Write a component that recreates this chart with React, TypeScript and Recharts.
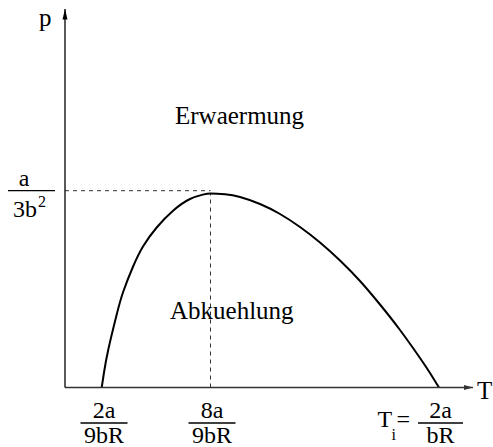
import React from 'react';
import { LineChart, Line, XAxis, YAxis, ReferenceLine, ReferenceDot } from 'recharts';

// Inversion curve (T in plot units, p in plot units)
const T_VALUES = [36.7, 39, 43.3, 51.7, 58.3, 68.3, 78.3, 91.7, 108.3, 125, 138.3, 145.5, 160, 175, 195, 215, 235, 255, 275, 295, 315, 335, 355, 365, 374];
const P_VALUES = [0, 15, 38, 73, 96, 121.5, 141.5, 160, 177, 188.5, 193, 194, 193.2, 190.5, 183.5, 173.5, 160.5, 145, 127, 106.5, 83, 57.5, 29.5, 14.5, 0];

const X_TICKS = [39, 147, 375.5];
const X_TICK_NUM = ['2a', '8a', '2a'];
const X_TICK_DEN = ['9bR', '9bR', 'bR'];
const Y_TICKS = [196.8];
const T_MAX = 145.5;
const P_MAX_LINE = 196.8;
const X_END = 408;
const Y_END = 378.5;

const data = T_VALUES.map((t, i) => ({ T: t, p: P_VALUES[i] }));

const Txt = ({ x, y, size, anchor, children }: any) => (
  <text
    transform={`translate(${x} ${y}) scale(${size / 20})`}
    x={0}
    y={0}
    fill="#000"
    textAnchor={anchor || 'start'}
    style={{ fontFamily: 'serif', fontSize: 20 }}
  >
    {children}
  </text>
);

const XTick = (props: any) => {
  const { x, index } = props;
  const c = x;
  const barY = 423;
  const w = index === 2 ? 45 : 47;
  return (
    <g>
      <Txt x={c} y={418} size={24} anchor="middle">{X_TICK_NUM[index]}</Txt>
      <line x1={c - w / 2} x2={c + w / 2} y1={barY} y2={barY} stroke="#000" strokeWidth={1.3} />
      <Txt x={c} y={443} size={24} anchor="middle">{X_TICK_DEN[index]}</Txt>
      {index === 2 && (
        <g>
          <Txt x={c - 63} y={427} size={24}>T</Txt>
          <Txt x={c - 49} y={440} size={16}>i</Txt>
          <Txt x={c - 44} y={427} size={24}>=</Txt>
        </g>
      )}
    </g>
  );
};

const YTick = (props: any) => {
  const { y } = props;
  return (
    <g>
      <Txt x={24} y={y - 5} size={24} anchor="middle">a</Txt>
      <line x1={8} x2={55} y1={y} y2={y} stroke="#000" strokeWidth={1.3} />
      <Txt x={13} y={y + 26} size={24}>3b</Txt>
      <Txt x={38} y={y + 16} size={16}>2</Txt>
    </g>
  );
};

export default function App() {
  return (
    <div style={{ position: 'absolute', left: 0, top: 0, width: 493, height: 447, background: '#fff' }}>
      <LineChart width={493} height={447} data={data} margin={{ top: 9, right: 20, bottom: 29.5, left: 5 }}>
        <XAxis
          type="number"
          dataKey="T"
          domain={[0, X_END]}
          ticks={X_TICKS}
          allowDataOverflow
          height={30}
          tickLine={false}
          axisLine={{ stroke: '#333', strokeWidth: 1.3 }}
          tick={<XTick />}
          interval={0}
        />
        <YAxis
          type="number"
          domain={[0, Y_END]}
          ticks={Y_TICKS}
          allowDataOverflow
          width={60}
          tickLine={false}
          axisLine={{ stroke: '#000', strokeWidth: 1.3 }}
          tick={<YTick />}
          interval={0}
        />
        <ReferenceLine
          segment={[{ x: 0, y: P_MAX_LINE }, { x: T_MAX, y: P_MAX_LINE }]}
          stroke="#333"
          strokeWidth={1}
          strokeDasharray="4 4"
        />
        <ReferenceLine
          segment={[{ x: T_MAX, y: 0 }, { x: T_MAX, y: P_MAX_LINE - 2.5 }]}
          stroke="#333"
          strokeWidth={1}
          strokeDasharray="4 4"
        />
        <Line
          type="natural"
          dataKey="p"
          stroke="#000"
          strokeWidth={2}
          dot={false}
          isAnimationActive={false}
        />
        <ReferenceDot
          x={X_END}
          y={0}
          ifOverflow="visible"
          shape={(p: any) => (
            <g>
              <polygon points={`${p.cx},${p.cy} ${p.cx - 9},${p.cy - 2.5} ${p.cx - 9},${p.cy + 2.5}`} fill="#333" />
              <Txt x={p.cx + 4} y={p.cy + 11} size={25}>T</Txt>
            </g>
          )}
        />
        <ReferenceDot
          x={0}
          y={Y_END}
          ifOverflow="visible"
          shape={(p: any) => (
            <g>
              <polygon points={`${p.cx},${p.cy} ${p.cx - 2.5},${p.cy + 10.5} ${p.cx + 2.5},${p.cy + 10.5}`} fill="#000" />
              <Txt x={p.cx - 26} y={p.cy + 17} size={25}>p</Txt>
            </g>
          )}
        />
        <ReferenceDot
          x={110}
          y={263.5}
          ifOverflow="visible"
          shape={(p: any) => <Txt x={p.cx} y={p.cy} size={25}>Erwaermung</Txt>}
        />
        <ReferenceDot
          x={105}
          y={68.5}
          ifOverflow="visible"
          shape={(p: any) => <Txt x={p.cx} y={p.cy} size={25}>Abkuehlung</Txt>}
        />
      </LineChart>
    </div>
  );
}
